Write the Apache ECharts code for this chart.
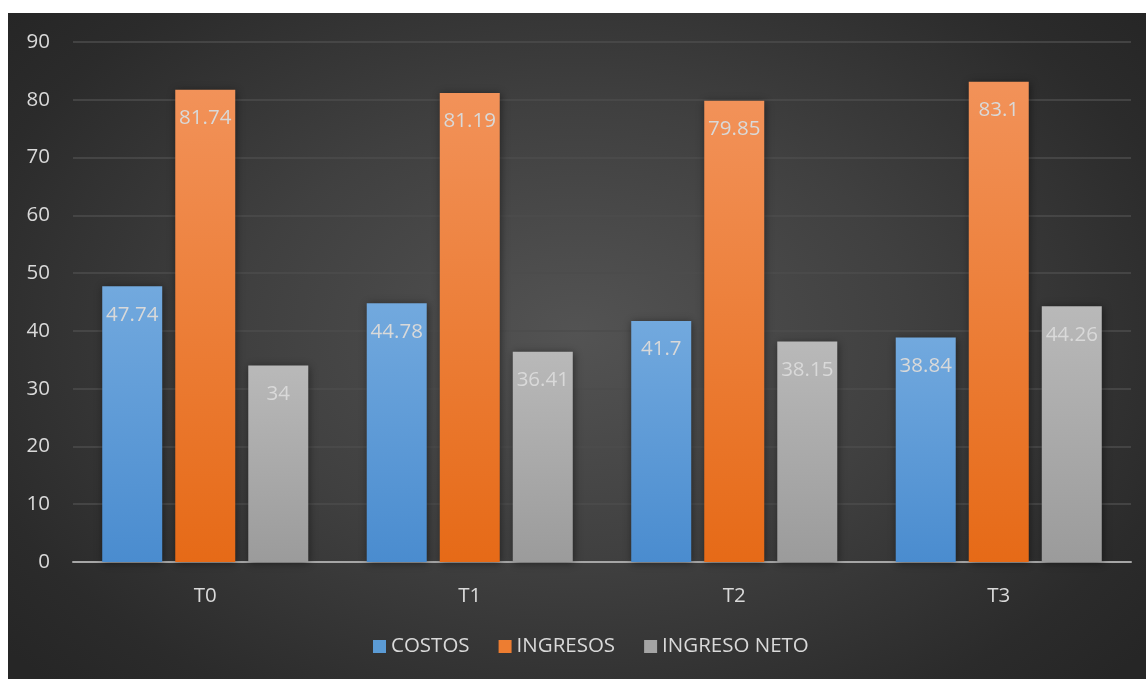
<!DOCTYPE html>
<html><head><meta charset="utf-8">
<script src="https://cdn.jsdelivr.net/npm/echarts@6/dist/echarts.min.js"></script>
<style>
html,body{margin:0;padding:0;background:#fff;width:1146px;height:679px;overflow:hidden}
#c{position:absolute;left:8px;top:13px;width:1138px;height:666px;
background:radial-gradient(ellipse 65% 75% at 50% 48%, #535353 0%, #404040 45%, #2b2b2b 85%, #262626 100%);}
</style></head><body><div id="c"></div>
<script>
const categories = ['T0','T1','T2','T3'];
const costos = [47.74, 44.78, 41.7, 38.84];
const ingresos = [81.74, 81.19, 79.85, 83.1];
const ingresoNeto = [34, 36.41, 38.15, 44.26];
const seriesNames = ['COSTOS','INGRESOS','INGRESO NETO'];

const font = '"Open Sans", "Noto Sans", sans-serif';
const fs = 20.5;
function grad(top, bottom){
  return {type:'linear',x:0,y:0,x2:0,y2:1,colorStops:[{offset:0,color:top},{offset:1,color:bottom}]};
}
const colors = [grad('#72a9de','#4a8ccf'), grad('#f29259','#e66a17'), grad('#b9b9b9','#9b9b9b')];
const legendColors = ['#5b9bd5','#ed7d31','#a5a5a5'];
function mk(name, data, i){
  return {
    name, type:'bar', data, barWidth:60,
    barGap:'21.7%',
    itemStyle:{color:colors[i], shadowColor:'rgba(0,0,0,0.45)', shadowBlur:8, shadowOffsetX:1, shadowOffsetY:1},
    label:{show:true, position:'insideTop', distance:18, color:'#d9d9d9', fontSize:fs, fontFamily:font},
  };
}
const chart = echarts.init(document.getElementById('c'), null, {renderer:'canvas'});
chart.setOption({
  backgroundColor:'transparent',
  animation:false,
  grid:{left:65, right:15, top:29, bottom:117, containLabel:false},
  legend:{bottom:17, left:360, itemWidth:13, itemHeight:13, itemGap:29,
    textStyle:{color:'#d9d9d9', fontSize:fs, fontFamily:font},
    data: seriesNames.map((n,i)=>({name:n, icon:'rect', itemStyle:{color:legendColors[i]}}))},
  xAxis:{type:'category', data:categories,
    axisLine:{lineStyle:{color:'#a6a6a6', width:2}}, axisTick:{show:false},
    axisLabel:{color:'#d9d9d9', fontSize:fs, fontFamily:font, margin:24}},
  yAxis:{type:'value', min:0, max:90, interval:10,
    axisLine:{show:false}, axisTick:{show:false},
    splitLine:{lineStyle:{color:'#4d4d4d', width:1.5}},
    axisLabel:{color:'#d9d9d9', fontSize:fs, fontFamily:font, margin:23}},
  series:[mk(seriesNames[0], costos, 0), mk(seriesNames[1], ingresos, 1), mk(seriesNames[2], ingresoNeto, 2)]
});
</script></body></html>
